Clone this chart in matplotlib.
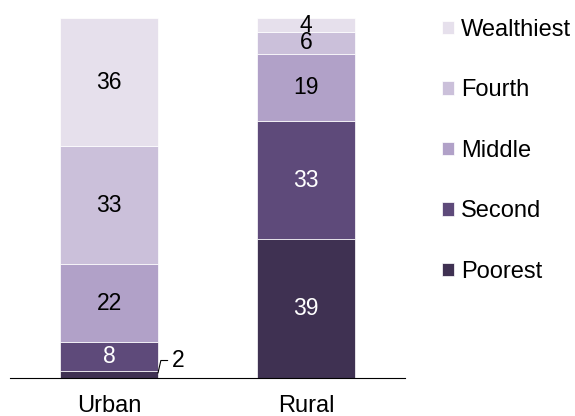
import matplotlib.pyplot as plt
import numpy as np

plt.rcParams['font.family'] = ['Liberation Sans', 'DejaVu Sans']

areas = ['Urban', 'Rural']
quintiles = ['Poorest', 'Second', 'Middle', 'Fourth', 'Wealthiest']
urban = [2, 8, 22, 33, 36]
rural = [39, 33, 19, 6, 4]
colors = ['#3f3152', '#5e4a7a', '#b1a1c8', '#cbc0da', '#e6e0ec']
text_colors = ['white', 'white', 'black', 'black', 'black']

values = np.array([urban, rural])

fig = plt.figure(figsize=(5.75, 4.16), dpi=100)
ax = fig.add_axes([10 / 575, 38 / 416, 395 / 575, 360 / 416])

x = np.arange(len(areas))
width = 0.497
bottom = np.zeros(len(areas))
for i, q in enumerate(quintiles):
    vals = values[:, i]
    ax.bar(x, vals, width, bottom=bottom, color=colors[i], label=q,
           edgecolor='white', linewidth=0.5)
    for j, v in enumerate(vals):
        if v >= 4:
            ax.text(x[j], bottom[j] + v / 2, str(v), ha='center', va='center',
                    fontsize=16.5, color=text_colors[i])
    bottom += vals

# small Urban value labelled outside
ax.annotate(str(urban[0]), xy=(x[0] + width / 2, urban[0] * 0.7),
            xytext=(10, 9), textcoords='offset points', fontsize=16.5,
            va='center', ha='left',
            arrowprops=dict(arrowstyle='-', color='black', lw=0.8,
                            shrinkA=1, shrinkB=0,
                            connectionstyle='angle,angleA=0,angleB=77,rad=0'))

ax.set_xlim(-0.503, 1.503)
ax.set_ylim(0, 101)
ax.set_xticks(x)
ax.set_xticklabels(areas, fontsize=17)
ax.tick_params(axis='x', length=0, pad=12)
ax.set_yticks([])
for s in ['top', 'right', 'left']:
    ax.spines[s].set_visible(False)
ax.spines['bottom'].set_linewidth(0.8)

handles, labels = ax.get_legend_handles_labels()
ax.legend(handles[::-1], labels[::-1], loc='upper left',
          bbox_to_anchor=(442 / 575, 1 - 19 / 416),
          bbox_transform=fig.transFigure, frameon=False, fontsize=17,
          handlelength=0.5, handleheight=0.5, handletextpad=0.3,
          labelspacing=1.63, borderaxespad=0, borderpad=0)

fig.savefig('out.png', dpi=100)
